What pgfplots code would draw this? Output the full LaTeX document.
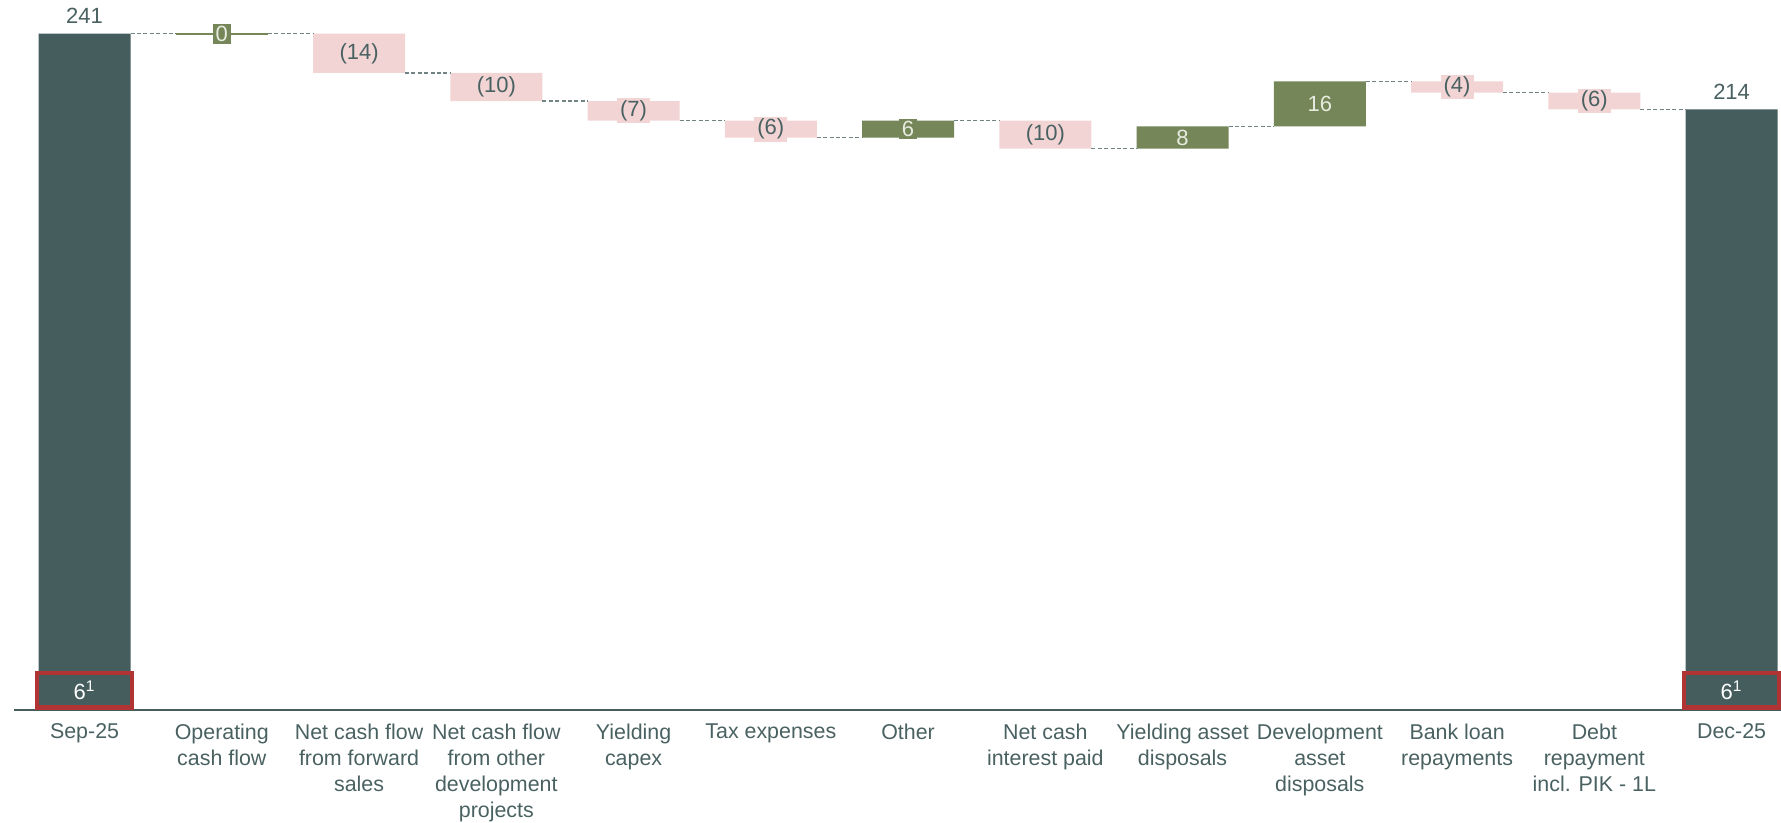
\documentclass[border=0pt]{standalone}
\usepackage{pgfplots}
\pgfplotsset{compat=1.18}
\usepackage{pgfplotstable}
\usepackage{fontspec}
\setmainfont{Liberation Sans}

\definecolor{slate}{RGB}{69,93,93}
\definecolor{slatetext}{RGB}{74,97,97}
\definecolor{gain}{RGB}{117,134,88}
\definecolor{loss}{RGB}{242,212,213}
\definecolor{flag}{RGB}{176,52,52}
\definecolor{connector}{RGB}{112,132,132}
\definecolor{lighttext}{RGB}{232,236,224}

% Cash bridge: invisible base + visible segment (opening/closing, outflow, inflow)
\pgfplotstableread{
x  base total neg pos
0  0    241   0   0
1  241  0     0   0
2  227  0     14  0
3  217  0     10  0
4  210  0     7   0
5  204  0     6   0
6  204  0     0   6
7  200  0     10  0
8  200  0     0   8
9  208  0     0   16
10 220  0     4   0
11 214  0     6   0
12 0    214   0   0
}\bridge

\pgfplotsset{
  bridgeframe/.style={
    at={(0,0)}, anchor=south west, scale only axis,
    width=883.7pt, height=355pt,
    xmin=-0.517, xmax=12.36, ymin=0, ymax=253,
    clip=false,
  },
}
\tikzset{
  vallabel/.style={font=\fontsize{11}{13}\selectfont, inner xsep=1.5pt, inner ysep=1.1pt},
}

\begin{document}
\begin{tikzpicture}
% bars and category axis
\begin{axis}[
  bridgeframe,
  ybar stacked, bar width=0.67,
  axis y line=none, axis x line*=bottom,
  x axis line style={draw=slate, line width=1.2pt},
  xtick={0,...,12}, major tick length=0pt,
  xticklabels={{Sep-25},{Operating\\cash flow},{Net cash flow\\from forward\\sales},
    {Net cash flow\\from other\\development\\projects},{Yielding\\capex},{Tax expenses},
    {Other},{Net cash\\interest paid},{Yielding asset\\disposals},
    {Development\\asset\\disposals},{Bank loan\\repayments},
    {Debt\\repayment\\incl. PIK - 1L},{Dec-25}},
  xticklabel style={align=center, anchor=north, inner sep=0pt, yshift=-6.7pt,
    text=slatetext, font=\fontsize{10.7}{13}\selectfont},
]
\addplot[draw=none, fill=none] table[x=x, y=base] {\bridge};
\addplot[draw=none, fill=slate] table[x=x, y=total] {\bridge};
\addplot[draw=none, fill=loss] table[x=x, y=neg] {\bridge};
\addplot[draw=none, fill=gain] table[x=x, y=pos] {\bridge};
\end{axis}

% connectors, value labels and highlighted amounts
\begin{axis}[bridgeframe, hide axis, unbounded coords=jump]
\addplot[connector, line width=0.6pt, dash pattern=on 2pt off 1.2pt] coordinates {
  (0.335,241) (0.665,241) (0.7,nan)
  (1.335,241) (1.665,241) (1.7,nan)
  (2.335,227) (2.665,227) (2.7,nan)
  (3.335,217) (3.665,217) (3.7,nan)
  (4.335,210) (4.665,210) (4.7,nan)
  (5.335,204) (5.665,204) (5.7,nan)
  (6.335,210) (6.665,210) (6.7,nan)
  (7.335,200) (7.665,200) (7.7,nan)
  (8.335,208) (8.665,208) (8.7,nan)
  (9.335,224) (9.665,224) (9.7,nan)
  (10.335,220) (10.665,220) (10.7,nan)
  (11.335,214) (11.665,214)
};
% zero-valued operating cash flow
\addplot[gain, line width=1pt] coordinates {(0.665,241) (1.335,241)};

\node[vallabel, anchor=base, text=slatetext, yshift=5pt] at (axis cs:0,241) {241};
\node[vallabel, anchor=base, text=slatetext, yshift=5pt] at (axis cs:12,214) {214};

\node[vallabel, fill=gain, text=lighttext] at (axis cs:1,241) {0};
\node[vallabel, fill=loss, text=slatetext] at (axis cs:2,234) {(14)};
\node[vallabel, fill=loss, text=slatetext] at (axis cs:3,222) {(10)};
\node[vallabel, fill=loss, text=slatetext] at (axis cs:4,213.5) {(7)};
\node[vallabel, fill=loss, text=slatetext] at (axis cs:5,207) {(6)};
\node[vallabel, fill=gain, text=lighttext] at (axis cs:6,207) {6};
\node[vallabel, fill=loss, text=slatetext] at (axis cs:7,205) {(10)};
\node[vallabel, fill=gain, text=lighttext] at (axis cs:8,204) {8};
\node[vallabel, fill=gain, text=lighttext] at (axis cs:9,216) {16};
\node[vallabel, fill=loss, text=slatetext] at (axis cs:10,222) {(4)};
\node[vallabel, fill=loss, text=slatetext] at (axis cs:11,217) {(6)};

% restricted cash within the opening and closing balances
\draw[flag, line width=2.2pt] (axis cs:-0.345,0.9) rectangle (axis cs:0.345,13.1);
\draw[flag, line width=2.2pt] (axis cs:11.655,0.9) rectangle (axis cs:12.345,13.1);
\node[vallabel, text=white] at (axis cs:0,7) {6\textsuperscript{1}};
\node[vallabel, text=white] at (axis cs:12,7) {6\textsuperscript{1}};
\end{axis}

\pgfresetboundingbox
\path[use as bounding box] (-6.8pt,-56.5pt) rectangle (883.7pt,355pt);
\end{tikzpicture}
\end{document}
